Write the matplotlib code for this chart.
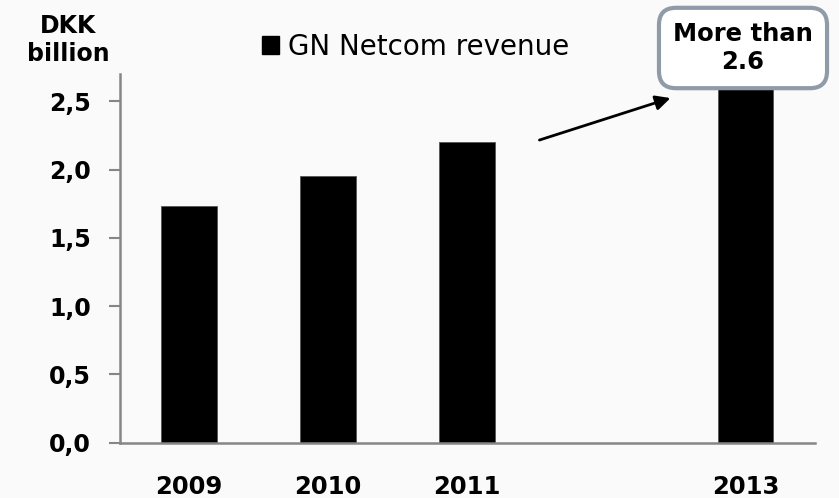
import matplotlib
matplotlib.use('Agg')
import matplotlib.pyplot as plt
from matplotlib.patches import Patch

years = ['2009', '2010', '2011', '', '2013']
revenue = [1.73, 1.95, 2.20, 0.0, 2.70]
y_ticks = [0.0, 0.5, 1.0, 1.5, 2.0, 2.5]
y_tick_labels = ['0,0', '0,5', '1,0', '1,5', '2,0', '2,5']

BG = '#fafafa'
AXIS_GREY = '#868686'
BOX_EDGE = '#8f9ba6'

W, H = 839, 498
fig = plt.figure(figsize=(W / 100, H / 100), dpi=100, facecolor=BG)
# axes placed to match the reference pixel layout
ax = fig.add_axes([119.5 / W, 1 - 442.6 / H, (815 - 119.5) / W, (442.6 - 74) / H])
ax.set_facecolor(BG)

x = list(range(len(years)))
ax.bar(x, revenue, width=0.4, color='black', edgecolor='#555555', linewidth=0.6)

ax.set_xlim(-0.5, len(years) - 0.5)
ax.set_ylim(0, 2.7)
ax.set_yticks(y_ticks)
ax.set_yticklabels(y_tick_labels, fontsize=17, fontweight='bold')
ax.set_xticks(x)
ax.set_xticklabels(years, fontsize=17.5, fontweight='bold')
ax.tick_params(axis='x', length=0, pad=23)
ax.tick_params(axis='y', length=8, width=1.5, color=AXIS_GREY, pad=12.5)

for side in ['top', 'right']:
    ax.spines[side].set_visible(False)
for side in ['left', 'bottom']:
    ax.spines[side].set_color(AXIS_GREY)
    ax.spines[side].set_linewidth(1.8)

# axis unit label
fig.text(68 / W, 1 - 40 / H, 'DKK\nbillion', ha='center', va='center',
         fontsize=17, fontweight='bold', linespacing=1.25)

# legend
handle = Patch(facecolor='black', edgecolor='black')
fig.legend([handle], ['GN Netcom revenue'], loc='center left',
           bbox_to_anchor=(262 / W, 1 - 47 / H), frameon=False, fontsize=20,
           handlelength=0.62, handleheight=0.62, handletextpad=0.32,
           borderpad=0, borderaxespad=0)

# growth arrow towards 2013
ax.annotate('', xy=(3.48, 2.53), xytext=(2.5, 2.21),
            arrowprops=dict(arrowstyle='-|>', color='black', lw=2,
                            mutation_scale=22))

# callout box
fig.text(743 / W, 1 - 48 / H, 'More than\n2.6', ha='center', va='center',
         fontsize=17.5, fontweight='bold', linespacing=1.22, zorder=5,
         bbox=dict(boxstyle='round,pad=0.58,rounding_size=0.7', fc='white',
                   ec=BOX_EDGE, lw=3))

fig.savefig('out.png', dpi=100, facecolor=BG)
